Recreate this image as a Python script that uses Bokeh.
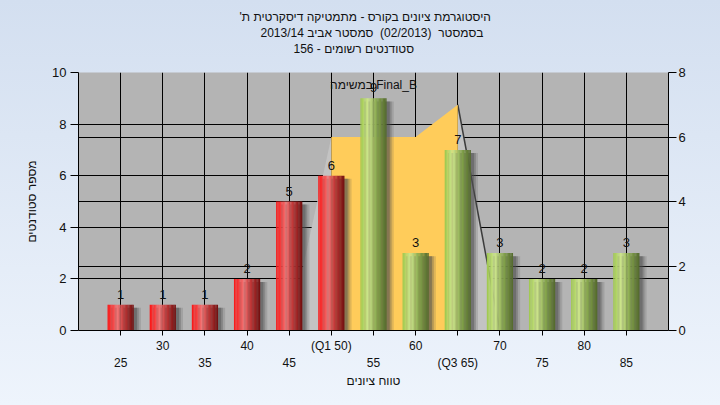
from bokeh.plotting import figure
from bokeh.models import (Range1d, LinearAxis, FixedTicker, Grid, Title, ColumnDataSource)
from bokeh.core.properties import value
from bokeh.embed import file_html
from bokeh.resources import INLINE

# ---------------- data ----------------
scores = [25, 30, 35, 40, 45, 50, 55, 60, 65, 70, 75, 80, 85]
counts = [1, 1, 1, 2, 5, 6, 9, 3, 7, 3, 2, 2, 3]
tick_labels = ["25", "30", "35", "40", "45", "(Q1 50)", "55", "60", "(Q3 65)", "70", "75", "80", "85"]
red_until = 50  # bars up to this score are red, the rest green

area_x = [45, 50, 55, 60, 65, 70]
area_v = [0, 6, 6, 6, 7, 0]
area_name = "\u202bFinal_B במשימה\u202c"

title_lines = [
    "היסטוגרמת ציונים בקורס - מתמטיקה דיסקרטית ת'\u200f",
    "בסמסטר\u00a0 (02/2013)\u00a0 סמסטר אביב 2013/14",
    "סטודנטים רשומים - 156",
]
x_title = "טווח ציונים"
y_title = "מספר סטודנטים"

FONT = "Liberation Sans"
TXT = "#111111"

p = figure(width=720, height=405, x_range=Range1d(20, 90), y_range=Range1d(0, 10),
           output_backend="svg", toolbar_location=None,
           min_border_left=78, min_border_right=52, min_border_top=72, min_border_bottom=75)
p.extra_y_ranges = {"right": Range1d(0, 8)}
p.background_fill_color = "#b4b4b4"
p.border_fill_color = None
p.outline_line_color = None
p.styles = {"background-image": "linear-gradient(#d3dff0, #eef4fc)"}

# grids
p.xgrid.ticker = FixedTicker(ticks=scores)
p.xgrid.grid_line_color = "black"
p.ygrid.ticker = FixedTicker(ticks=[2, 4, 6, 8, 10])
p.ygrid.grid_line_color = "black"
p.add_layout(Grid(dimension=1, ticker=FixedTicker(ticks=[2, 4, 6]), y_range_name="right",
                  grid_line_color="black"))

# left axis
ya = p.yaxis[0]
ya.ticker = FixedTicker(ticks=[0, 2, 4, 6, 8, 10])
ya.major_tick_out = 8
ya.major_tick_in = 0
ya.minor_tick_line_color = None
ya.axis_line_color = "black"
ya.major_tick_line_color = "black"
ya.major_label_text_font = FONT
ya.major_label_text_font_size = "13px"
ya.major_label_text_color = TXT
ya.major_label_standoff = 4
ya.axis_label = y_title
ya.axis_label_text_font = FONT
ya.axis_label_text_font_size = "12px"
ya.axis_label_text_font_style = "normal"
ya.axis_label_text_color = TXT
ya.axis_label_standoff = 10

# right axis
ra = LinearAxis(y_range_name="right", ticker=FixedTicker(ticks=[0, 2, 4, 6, 8]))
ra.major_tick_out = 8
ra.major_tick_in = 0
ra.minor_tick_line_color = None
ra.major_label_text_font = FONT
ra.major_label_text_font_size = "13px"
ra.major_label_text_color = TXT
ra.major_label_standoff = 2
p.add_layout(ra, "right")

# bottom axes (staggered labels)
xa = p.xaxis[0]
xa.ticker = FixedTicker(ticks=scores)
xa.major_label_overrides = {s: (lab if i % 2 == 1 else "") for i, (s, lab) in enumerate(zip(scores, tick_labels))}
xa.major_tick_out = 5
xa.major_tick_in = 0
xa.minor_tick_line_color = None
xa.major_label_text_font = FONT
xa.major_label_text_font_size = "12px"
xa.major_label_text_color = TXT
xa.major_label_standoff = 3

xb = LinearAxis(ticker=FixedTicker(ticks=scores[0::2]))
xb.major_label_overrides = {s: lab for s, lab in zip(scores[0::2], tick_labels[0::2])}
xb.axis_line_color = None
xb.major_tick_line_color = None
xb.minor_tick_line_color = None
xb.major_tick_out = 0
xb.major_label_text_font = FONT
xb.major_label_text_font_size = "12px"
xb.major_label_text_color = TXT
xb.major_label_standoff = 0
p.add_layout(xb, "below")

p.add_layout(Title(text=x_title, align="center", text_font=FONT, text_font_size="12px",
                   text_font_style="normal", text_color=TXT, standoff=-2), "below")

# titles: spacer nearest the frame, then lines 3, 2, 1 (left aligned, offset from frame left)
p.add_layout(Title(text=" ", text_font=FONT, text_font_size="12px", standoff=0), "above")
for line, so, off in zip(title_lines[::-1], [1, 0, 0], [215, 182, 161]):
    p.add_layout(Title(text=line, align="left", offset=off, text_font=FONT,
                       text_font_size="12px", text_font_style="normal", text_color=TXT,
                       standoff=so), "above")

# ---------------- area series (right axis) ----------------
ORANGE = "#ffcc5a"
GRAYSEG = "#c3c3c3"
ox, oy = [], []
for i in range(len(area_x) - 1):
    x0, x1, v0, v1 = area_x[i], area_x[i + 1], area_v[i], area_v[i + 1]
    if v0 > 0 and v1 > 0:
        if not ox:
            ox.append(x0); oy.append(v0)
        ox.append(x1); oy.append(v1)
    else:
        p.patch([x0, x0, x1, x1], [0, v0, v1, 0], y_range_name="right",
                fill_color=GRAYSEG, line_color=None)
        if v0 > v1:
            p.line([x0, x1], [v0, v1], y_range_name="right", line_color="#3c3c3c", line_width=1.5)
p.varea(x=ox, y1=[0] * len(ox), y2=oy, y_range_name="right", fill_color=ORANGE)

# ---------------- bars ----------------
BW = 0.62 * 5
def lerp(stops, t):
    for (t0, c0), (t1, c1) in zip(stops, stops[1:]):
        if t0 <= t <= t1:
            f = (t - t0) / (t1 - t0) if t1 > t0 else 0
            return "#%02x%02x%02x" % tuple(int(round(a + (b - a) * f)) for a, b in zip(c0, c1))
    return "#%02x%02x%02x" % stops[-1][1]

red_stops = [(0.0, (250, 22, 22)), (0.18, (246, 60, 60)), (0.38, (240, 118, 118)),
             (0.62, (196, 58, 58)), (1.0, (112, 14, 14))]
green_stops = [(0.0, (158, 200, 76)), (0.3, (206, 230, 142)), (0.62, (136, 168, 78)),
               (1.0, (82, 104, 44))]

# shadows
for dx, a in [(0.85, 0.18), (0.6, 0.3), (0.38, 0.45)]:
    p.vbar(x=[s + dx for s in scores], width=BW, top=[c - 0.12 for c in counts], bottom=0,
           fill_color="#505050", fill_alpha=a, line_color=None)

N = 20
for j in range(N):
    t = (j + 0.5) / N
    xs = [s - BW / 2 + BW * t for s in scores]
    cols = [lerp(red_stops if s <= red_until else green_stops, t) for s in scores]
    src = ColumnDataSource(dict(x=xs, top=counts, c=cols))
    p.vbar(x="x", top="top", bottom=0, width=BW / N * 1.08, fill_color="c", line_color=None, source=src)

# value labels
p.text(x=scores, y=counts, text=[str(c) for c in counts], text_align="center",
       text_baseline="bottom", y_offset=-6, text_font=value(FONT), text_font_size="13px",
       text_color=TXT)

# area series label
peak_i = counts.index(max(counts))
p.text(x=[scores[peak_i]], y=[counts[peak_i]], text=[area_name], text_align="center",
       text_baseline="bottom", y_offset=-6, text_font=value(FONT), text_font_size="12px",
       text_color=TXT)

html = file_html(p, INLINE)
html = html.replace("<body>", '<body style="background:#e2ebf7">', 1)
open("out.html", "w").write(html)
